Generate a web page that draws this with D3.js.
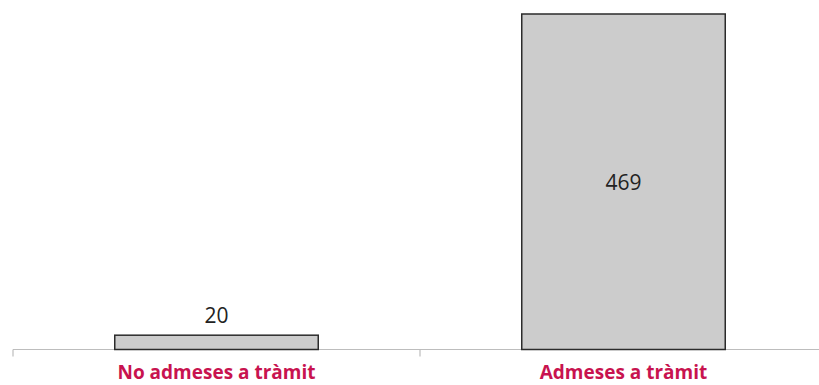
<!DOCTYPE html>
<html>
<head>
<meta charset="utf-8">
<script src="https://cdn.jsdelivr.net/npm/d3@7"></script>
<style>
  body { margin: 0; background: #fff; }
</style>
</head>
<body>
<div id="chart"></div>
<script>
// chart data
var categories = ["No admeses a tràmit", "Admeses a tràmit"];
var values = [20, 469];

const width = 819, height = 385;
const margin = { top: 14, right: -8, bottom: 36, left: 13 };

var svg = d3.select("#chart")
    .append("svg")
    .attr("width", width)
    .attr("height", height);

var x = d3.scaleBand()
    .domain(categories)
    .range([margin.left, width - margin.right])
    .paddingInner(0.5)
    .paddingOuter(0.25);

var y = d3.scaleLinear()
    .domain([0, d3.max(values)])
    .range([height - margin.bottom + 0.5, margin.top]);

// x axis
var xAxis = d3.axisBottom(x).tickSize(0).tickFormat("");
var ax = svg.append("g")
    .attr("transform", "translate(0," + (height - margin.bottom + 0.5) + ")")
    .call(xAxis);
ax.select(".domain").remove();
ax.append("line")
    .attr("x1", margin.left).attr("x2", width)
    .attr("stroke", "#bdbdbd").attr("stroke-width", 1.2);

// ticks at band boundaries
var bounds = [margin.left, margin.left + x.step(), margin.left + 2 * x.step()];
ax.selectAll(".bnd")
    .data(bounds)
    .enter().append("line")
    .attr("x1", d => d).attr("x2", d => d)
    .attr("y1", 0).attr("y2", 7)
    .attr("stroke", "#bdbdbd").attr("stroke-width", 1.2);

// bars
svg.selectAll(".bar")
    .data(values)
    .enter().append("rect")
    .attr("x", (d, i) => x(categories[i]))
    .attr("width", x.bandwidth())
    .attr("y", d => y(d))
    .attr("height", d => y(0) - y(d))
    .style("fill", "#cccccc")
    .style("stroke", "#2b2b2b")
    .style("stroke-width", 1.5);

// value labels
svg.selectAll(".val")
    .data(values)
    .enter().append("text")
    .attr("x", (d, i) => x(categories[i]) + x.bandwidth() / 2)
    .attr("y", d => (y(0) - y(d) > 40) ? (y(d) + y(0)) / 2 + 8 : y(d) - 12)
    .attr("text-anchor", "middle")
    .text(d => d)
    .style("font-family", "'Open Sans', sans-serif")
    .style("font-size", "21px")
    .style("fill", "#222");

// category labels
svg.selectAll(".cat")
    .data(categories)
    .enter().append("text")
    .attr("x", d => x(d) + x.bandwidth() / 2)
    .attr("y", height - 6)
    .attr("text-anchor", "middle")
    .text(d => d)
    .style("font-family", "'Open Sans', sans-serif")
    .style("font-size", "19px")
    .style("font-weight", "bold")
    .style("fill", "#c8134f");
</script>
</body>
</html>
